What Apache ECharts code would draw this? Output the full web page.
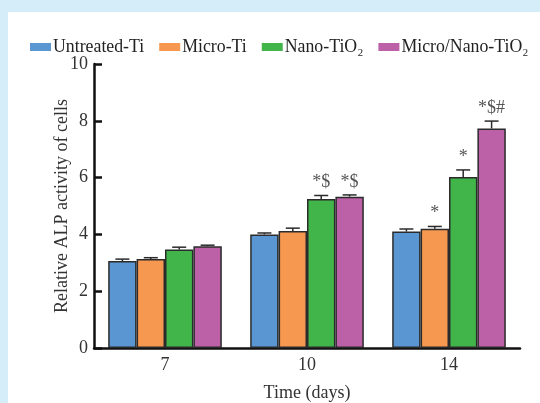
<!DOCTYPE html>
<html>
<head>
<meta charset="utf-8">
<script src="https://cdn.jsdelivr.net/npm/echarts@6/dist/echarts.min.js"></script>
<style>
html,body{margin:0;padding:0;}
#wrap{position:relative;width:540px;height:403px;background:#d5ecf9;overflow:hidden;}
#panel{position:absolute;left:8px;top:12px;width:532px;height:391px;background:#fff;}
#c{position:absolute;left:0;top:0;width:540px;height:403px;}
</style>
</head>
<body>
<div id="wrap"><div id="panel"></div><div id="c"></div></div>
<script>
var categories = ['7', '10', '14'];
var seriesNames = ['Untreated-Ti', 'Micro-Ti', 'Nano-TiO\u2082', 'Micro/Nano-TiO\u2082'];
var colors = ['#5a96d2', '#f6984f', '#42b54a', '#bc61a7'];
var untreated = [3.06, 4.00, 4.10];
var micro = [3.13, 4.12, 4.20];
var nano = [3.47, 5.25, 6.02];
var microNano = [3.58, 5.33, 7.73];
var untreatedErr = [0.07, 0.05, 0.09];
var microErr = [0.05, 0.10, 0.08];
var nanoErr = [0.08, 0.12, 0.25];
var microNanoErr = [0.04, 0.06, 0.26];
var untreatedMark = ['', '', ''];
var microMark = ['', '', '*'];
var nanoMark = ['', '*$', '*'];
var microNanoMark = ['', '*$', '*$#'];
var yTicks = [0, 2, 4, 6, 8, 10];

var values = [untreated, micro, nano, microNano];
var errs = [untreatedErr, microErr, nanoErr, microNanoErr];
var marks = [untreatedMark, microMark, nanoMark, microNanoMark];

var FONT = 'Liberation Serif';
var errData = [], errLabels = [];
for (var s = 0; s < 4; s++) {
  for (var c = 0; c < categories.length; c++) {
    errData.push([c, s, values[s][c], values[s][c] + errs[s][c]]);
    errLabels.push(marks[s][c]);
  }
}

var series = seriesNames.map(function (n, i) {
  return {
    name: n, type: 'bar', data: values[i],
    barGap: '0%', barCategoryGap: '20%',
    itemStyle: { color: colors[i], borderColor: '#2b2b2b', borderWidth: 1.5 },
    emphasis: { disabled: true }
  };
});
series.push({
  type: 'custom', z: 10, silent: true,
  data: errData,
  renderItem: function (params, api) {
    var cat = api.value(0), s = api.value(1), top = api.value(2), hi = api.value(3);
    var band = api.size([1, 0])[0];
    var bw = band * 0.8 / 4;
    var cx = api.coord([cat, 0])[0] + (s - 1.5) * bw;
    var yTop = api.coord([cat, top])[1];
    var yHi = api.coord([cat, hi])[1];
    var st = { stroke: '#2b2b2b', lineWidth: 1.5 };
    var ch = [
      { type: 'line', shape: { x1: cx, y1: yTop, x2: cx, y2: yHi }, style: st },
      { type: 'line', shape: { x1: cx - 7, y1: yHi, x2: cx + 7, y2: yHi }, style: st }
    ];
    var lab = errLabels[params.dataIndex];
    if (lab) {
      ch.push({ type: 'text', style: { text: lab, x: cx, y: yHi - 4, align: 'center', verticalAlign: 'bottom',
        fill: '#555', font: '18px "' + FONT + '"' } });
    }
    return { type: 'group', children: ch };
  }
});

var chart = echarts.init(document.getElementById('c'));
chart.setOption({
  backgroundColor: 'transparent',
  animation: false,
  textStyle: { fontFamily: FONT },
  legend: {
    data: seriesNames, left: 30, top: 38, icon: 'rect',
    itemWidth: 21, itemHeight: 8, itemGap: 15, padding: 0,
    itemStyle: { borderWidth: 0 },
    textStyle: { fontFamily: FONT, fontSize: 17.8, color: '#222', padding: [0, 0, 0, -3] }
  },
  grid: { left: 94, top: 64, right: 20, bottom: 55, containLabel: false, outerBoundsMode: 'none' },
  xAxis: {
    type: 'category', data: categories,
    name: 'Time (days)', nameLocation: 'middle', nameGap: 36, nameMoveOverlap: false,
    nameTextStyle: { fontFamily: FONT, fontSize: 18, color: '#333' },
    axisLine: { lineStyle: { color: '#111', width: 2.5 } },
    axisTick: { show: false },
    axisLabel: { fontFamily: FONT, fontSize: 18, color: '#333', margin: 8 }
  },
  yAxis: {
    type: 'value', min: 0, max: 10, interval: 2,
    name: 'Relative ALP activity of cells', nameLocation: 'middle', nameGap: 23, nameMoveOverlap: false,
    nameTextStyle: { fontFamily: FONT, fontSize: 18, color: '#333' },
    axisLine: { show: true, lineStyle: { color: '#111', width: 2.5 } },
    axisTick: { show: true, inside: true, length: 8, lineStyle: { color: '#111', width: 2.5 } },
    splitLine: { show: false },
    axisLabel: { fontFamily: FONT, fontSize: 18, color: '#333', margin: 6,
      formatter: function (v) { return yTicks.indexOf(v) >= 0 ? String(v) : ''; } }
  },
  series: series
});
</script>
</body>
</html>
